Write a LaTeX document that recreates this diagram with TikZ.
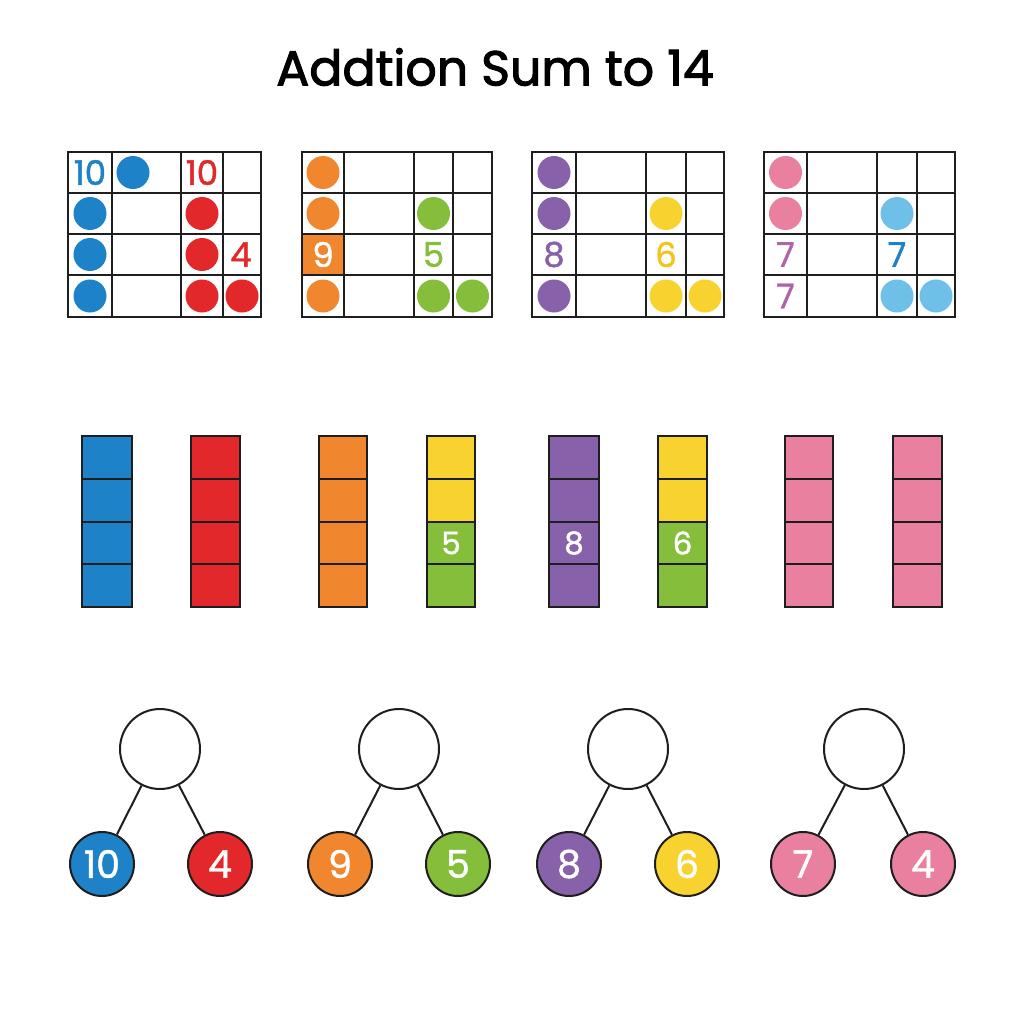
\documentclass[tikz,border=0pt]{standalone}
\usepackage{fontspec}
\setmainfont{Poppins}[FakeBold=1.2]
\definecolor{cblue}{RGB}{30,130,200}
\definecolor{cred}{RGB}{226,40,42}
\definecolor{corange}{RGB}{240,134,46}
\definecolor{cgreen}{RGB}{132,190,58}
\definecolor{cpurple}{RGB}{135,98,170}
\definecolor{cyellow}{RGB}{248,210,46}
\definecolor{cpink}{RGB}{233,128,160}
\definecolor{clblue}{RGB}{110,192,232}
\definecolor{cmauve}{RGB}{176,100,168}
\definecolor{cyeltext}{RGB}{242,196,30}
\definecolor{cline}{RGB}{30,30,30}
\tikzset{
  gridline/.style={draw=cline,line width=1.8pt},
  barline/.style={draw=cline,line width=1.8pt},
  gnum/.style={inner sep=0pt,font=\fontsize{34}{34}\selectfont},
  bnum/.style={inner sep=0pt,text=white,font=\fontsize{31}{31}\selectfont},
  titletext/.style={inner sep=0pt,font=\fontsize{49}{49}\selectfont\addfontfeatures{FakeBold=2.2}},
  bondtop/.style={circle,draw=cline,line width=2pt,fill=white,minimum size=80pt,inner sep=0pt},
  bondpart/.style={circle,draw=cline,line width=2pt,minimum size=64pt,inner sep=0pt,text=white,font=\fontsize{38}{38}\selectfont},
  bondline/.style={draw=cline,line width=2pt}
}
\newcommand{\mkgrid}[5]{%
  \draw[gridline] (#1,152) rectangle (#5,317);
  \draw[gridline] (#2,152) -- (#2,317) (#3,152) -- (#3,317) (#4,152) -- (#4,317);
  \draw[gridline] (#1,193) -- (#5,193) (#1,234) -- (#5,234) (#1,275) -- (#5,275);
}
\newcommand{\mkbar}[4]{%
  \fill[#3] (#1,436) rectangle (#2,522);
  \fill[#4] (#1,522) rectangle (#2,607);
  \draw[barline] (#1,436) rectangle (#2,607);
  \draw[barline] (#1,479) -- (#2,479) (#1,522) -- (#2,522) (#1,564) -- (#2,564);
}
\newcommand{\dotat}[3]{\fill[#1] (#2,#3) circle[radius=16.5pt];}
\begin{document}
\begin{tikzpicture}[x=1pt,y=-1pt]
\useasboundingbox[fill=white] (0,0) rectangle (1024,1024);
\node[titletext] (title) at (495,67) {Addtion Sum to 14};

% grid 1
\mkgrid{68}{112}{181}{223}{261}
\dotat{cblue}{133}{172.5}
\dotat{cblue}{90}{213.5}
\dotat{cblue}{90}{254.5}
\dotat{cblue}{90}{296}
\dotat{cred}{202}{213.5}
\dotat{cred}{202}{254.5}
\dotat{cred}{202}{296}
\dotat{cred}{242}{296}
\node[gnum,text=cblue] (g1a) at (90,172.5) {10};
\node[gnum,text=cred] (g1b) at (202,172.5) {10};
\node[gnum,text=cred] (g1c) at (241,254.5) {4};

% grid 2
\fill[corange] (302,234) rectangle (344,275);
\mkgrid{302}{344}{414}{453}{492}
\dotat{corange}{323}{172.5}
\dotat{corange}{323}{213.5}
\dotat{corange}{323}{296}
\dotat{cgreen}{433.5}{213.5}
\dotat{cgreen}{433.5}{296}
\dotat{cgreen}{472.5}{296}
\node[gnum,text=white] (g2a) at (323,254.5) {9};
\node[gnum,text=cgreen] (g2b) at (433.5,254.5) {5};

% grid 3
\mkgrid{532}{576}{646}{686}{724}
\dotat{cpurple}{554}{172.5}
\dotat{cpurple}{554}{213.5}
\dotat{cpurple}{554}{296}
\dotat{cyellow}{666}{213.5}
\dotat{cyellow}{666}{296}
\dotat{cyellow}{705}{296}
\node[gnum,text=cpurple] (g3a) at (554,254.5) {8};
\node[gnum,text=cyeltext] (g3b) at (666,254.5) {6};

% grid 4
\mkgrid{764}{807}{877}{917}{955}
\dotat{cpink}{785.5}{172.5}
\dotat{cpink}{785.5}{213.5}
\dotat{clblue}{897}{213.5}
\dotat{clblue}{897}{296}
\dotat{clblue}{936}{296}
\node[gnum,text=cmauve] (g4a) at (785.5,254.5) {7};
\node[gnum,text=cmauve] (g4b) at (785.5,296) {7};
\node[gnum,text=cblue] (g4c) at (897,254.5) {7};

% bars
\mkbar{82}{132}{cblue}{cblue}
\mkbar{191}{240}{cred}{cred}
\mkbar{319}{367}{corange}{corange}
\mkbar{427}{475}{cyellow}{cgreen}
\mkbar{549}{599}{cpurple}{cpurple}
\mkbar{658}{707}{cyellow}{cgreen}
\mkbar{785}{833}{cpink}{cpink}
\mkbar{893}{942}{cpink}{cpink}
\node[bnum] (b4) at (451,543) {5};
\node[bnum] (b5) at (574,543) {8};
\node[bnum] (b6) at (682.5,543) {6};

% number bonds
\node[bondtop] (t1) at (160,749) {};
\node[bondpart,fill=cblue] (l1) at (102,864) {10};
\node[bondpart,fill=cred] (r1) at (220,864) {4};
\node[bondtop] (t2) at (399,749) {};
\node[bondpart,fill=corange] (l2) at (340,864) {9};
\node[bondpart,fill=cgreen] (r2) at (458,864) {5};
\node[bondtop] (t3) at (628,749) {};
\node[bondpart,fill=cpurple] (l3) at (569,864) {8};
\node[bondpart,fill=cyellow] (r3) at (687,864) {6};
\node[bondtop] (t4) at (864,749) {};
\node[bondpart,fill=cpink] (l4) at (803,864) {7};
\node[bondpart,fill=cpink] (r4) at (923,864) {4};
\foreach \i in {1,2,3,4}{
  \draw[bondline] (t\i) -- (l\i);
  \draw[bondline] (t\i) -- (r\i);
}
\end{tikzpicture}
\end{document}
